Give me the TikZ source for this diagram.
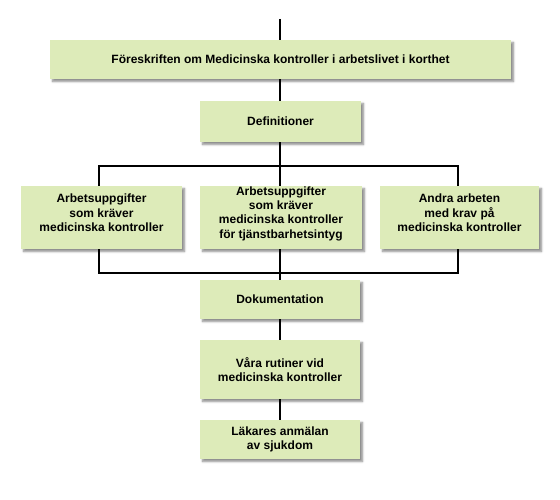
\documentclass[tikz,border=0pt]{standalone}
\usepackage{fontspec}
\setmainfont{Liberation Sans}
\usetikzlibrary{shadows.blur}
\definecolor{boxgreen}{HTML}{DDEBB9}
\tikzset{
  txt/.style={inner sep=0pt, align=center, font=\bfseries\fontsize{12}{14.3}\selectfont},
  box/.style={txt, fill=boxgreen, draw=none,
    blur shadow={shadow xshift=2.5pt, shadow yshift=-2.5pt, shadow blur steps=5, shadow blur radius=2pt, shadow opacity=45}},
  conn/.style={line width=2pt, black}
}
\begin{document}
\begin{tikzpicture}[x=1pt,y=-1pt]
\useasboundingbox (0,0) rectangle (560,500);
\coordinate (top) at (280,19);
\coordinate (hl1) at (99,166);
\coordinate (hr1) at (458,166);
\coordinate (hm1) at (280,166);
\coordinate (hl2) at (99,273);
\coordinate (hr2) at (458,273);
\coordinate (hm2) at (280,273);
\node[box, minimum width=461pt, minimum height=39pt] (f) at (280.5,59.5) {Föreskriften om Medicinska kontroller i arbetslivet i korthet};
\node[box, minimum width=161pt, minimum height=41pt] (d) at (280.5,121.5) {Definitioner};
\node[box, minimum width=161pt, minimum height=63pt] (a1) at (101.5,217.5) {};
\node[txt] (a1t) at ([yshift=4.5pt]a1.center) {Arbetsuppgifter\\som kräver\\medicinska kontroller};
\node[box, minimum width=162pt, minimum height=63pt] (a2) at (281,217.5) {};
\node[txt] (a2t) at ([yshift=4pt]a2.center) {Arbetsuppgifter\\som kräver\\medicinska kontroller\\för tjänstbarhetsintyg};
\node[box, minimum width=159pt, minimum height=63pt] (a3) at (459.5,217.5) {};
\node[txt] (a3t) at ([yshift=4.5pt]a3.center) {Andra arbeten\\med krav på\\medicinska kontroller};
\node[box, minimum width=160pt, minimum height=39pt] (dok) at (280,299.5) {Dokumentation};
\node[box, minimum width=160pt, minimum height=59pt] (v) at (280,369.5) {Våra rutiner vid\\medicinska kontroller};
\node[box, minimum width=160pt, minimum height=39pt] (l) at (280,439.5) {Läkares anmälan\\av sjukdom};
\draw[conn] (top) -- (f.north -| top);
\draw[conn] (f.south -| top) -- (d.north -| top);
\draw[conn] (d.south -| top) -- (hm1);
\draw[conn] (a1.north -| hl1) -- (hl1) -- (hr1) -- (a3.north -| hr1);
\draw[conn] (hm1) -- (a2.north -| hm1);
\draw[conn] (a1.south -| hl2) -- (hl2) -- (hr2) -- (a3.south -| hr2);
\draw[conn] (a2.south -| hm2) -- (hm2);
\draw[conn] (hm2) -- (dok.north -| hm2);
\draw[conn] (dok.south -| hm2) -- (v.north -| hm2);
\draw[conn] (v.south -| hm2) -- (l.north -| hm2);
\end{tikzpicture}
\end{document}
